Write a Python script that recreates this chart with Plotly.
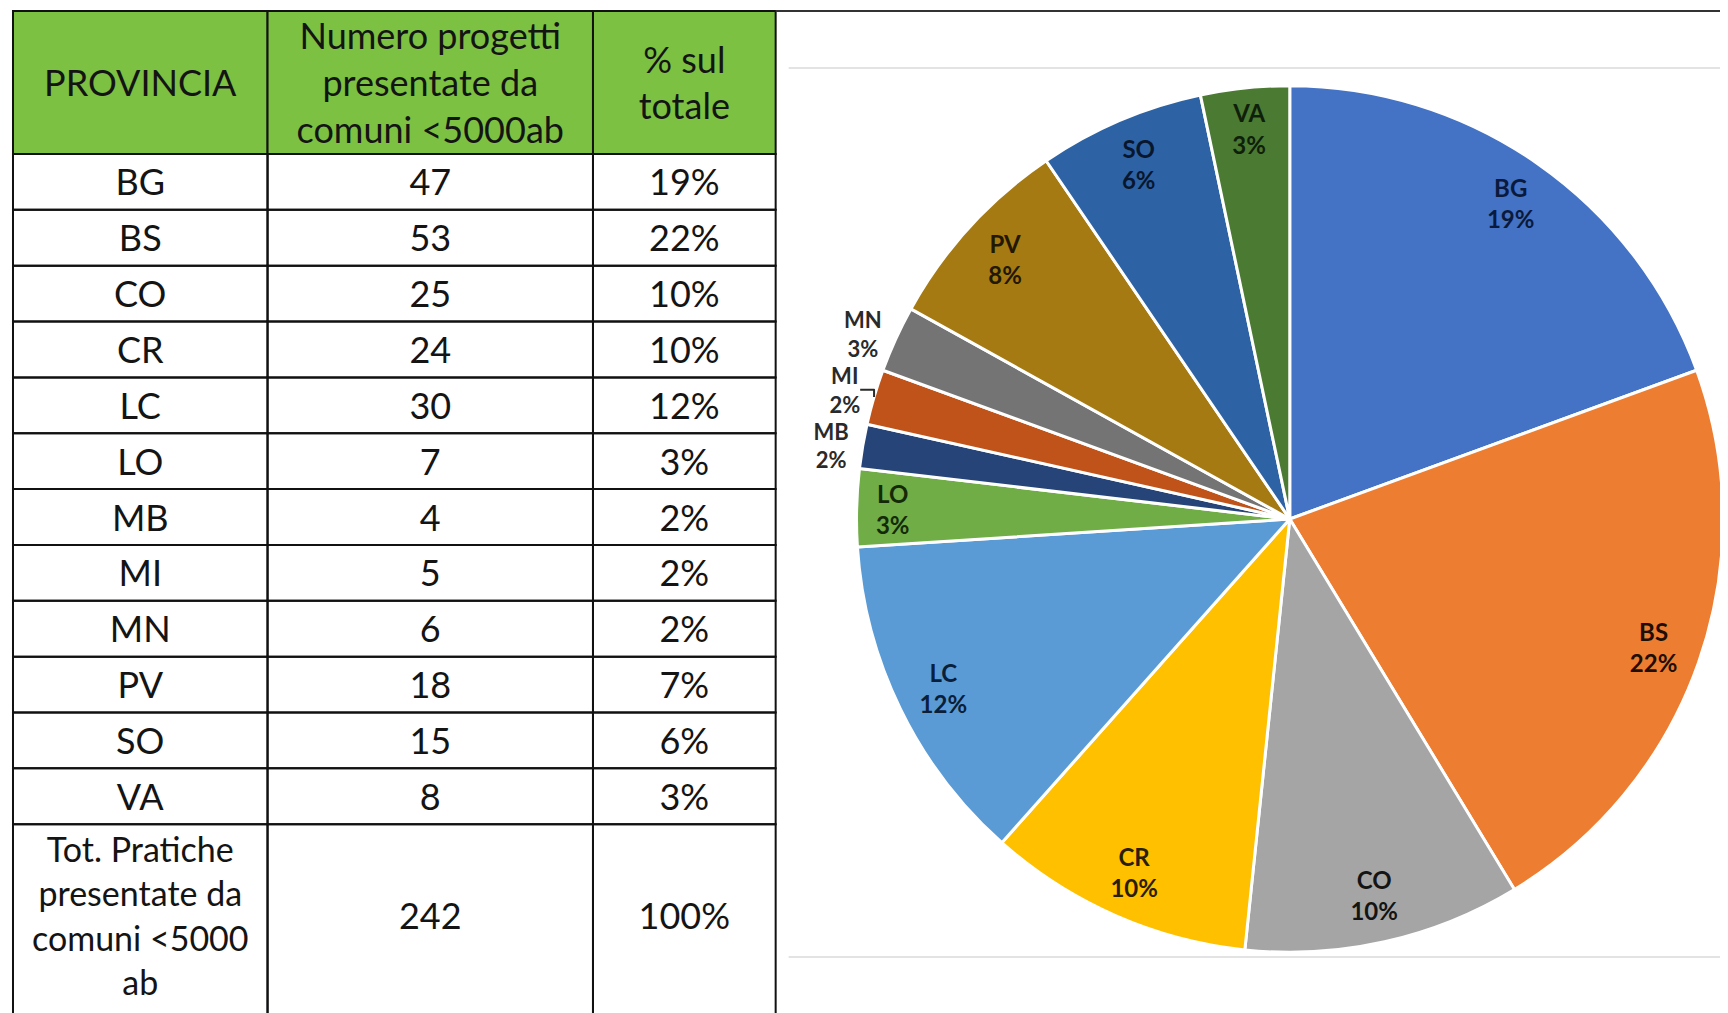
import plotly.graph_objects as go

# ---------------- data ----------------
provinces = ["BG", "BS", "CO", "CR", "LC", "LO", "MB", "MI", "MN", "PV", "SO", "VA"]
projects = [47, 53, 25, 24, 30, 7, 4, 5, 6, 18, 15, 8]
pct_table = ["19%", "22%", "10%", "10%", "12%", "3%", "2%", "2%", "2%", "7%", "6%", "3%"]
pie_pct = ["19%", "22%", "10%", "10%", "12%", "3%", "2%", "2%", "3%", "8%", "6%", "3%"]
header = ["PROVINCIA", "Numero progetti<br>presentate da<br>comuni &lt;5000ab", "% sul<br>totale"]
total_label = "Tot. Pratiche<br>presentate da<br>comuni &lt;5000<br>ab"
total_projects = 242
total_pct = "100%"

# ---------------- styles / layout ----------------
W, H = 1728, 1013          # browser window (page pixels)
OFF = 8                    # default page body margin
FW, FH = W - OFF, H - OFF  # figure size so that it ends at the window edge
FONT = "Lato"
slice_colors = ["#4472C4", "#ED7D31", "#A5A5A5", "#FFC000", "#5B9BD5", "#70AD47",
                "#264478", "#C0531A", "#747474", "#A67A12", "#2D63A5", "#4B7A33"]
label_colors = ["#0A1A3C", "#1E0E03", "#141414", "#2A1E00", "#0A203A", "#142A07",
                "#2A2A2A", "#2A2A2A", "#2A2A2A", "#221800", "#08172E", "#0F1F09"]
label_pos = ["inside", "inside", "inside", "inside", "inside", "inside",
             "outside", "outside", "outside", "inside", "inside", "inside"]
header_fill = "#7CC142"

col_edges = [13, 268, 594, 777]
table_top = 11
header_h = 143
row_h = 55.85
total_h = 198
total_text_center = 920     # centre of the (partly cut) last row's text block
text_dy = 4.5               # small downward nudge for visual centring of text
cell_font = 36
total_label_font = 34

fig = go.Figure()

# ---------------- table (drawn on a hidden pixel-unit axis) ----------------
shapes = []
n_cols = len(col_edges) - 1
for c in range(n_cols):
    shapes.append(dict(type="rect", xref="x", yref="y",
                       x0=col_edges[c], x1=col_edges[c + 1],
                       y0=table_top, y1=table_top + header_h,
                       fillcolor=header_fill, line=dict(color="#111111", width=2), layer="below"))
body_top = table_top + header_h
row_tops = [body_top + i * row_h for i in range(len(provinces))]
total_top = body_top + len(provinces) * row_h
for rt in row_tops:
    for c in range(n_cols):
        shapes.append(dict(type="rect", xref="x", yref="y",
                           x0=col_edges[c], x1=col_edges[c + 1], y0=rt, y1=rt + row_h,
                           line=dict(color="#111111", width=2), layer="below"))
for c in range(n_cols):
    shapes.append(dict(type="rect", xref="x", yref="y",
                       x0=col_edges[c], x1=col_edges[c + 1], y0=total_top, y1=total_top + total_h,
                       line=dict(color="#111111", width=2), layer="below"))
shapes.append(dict(type="line", xref="x", yref="y", x0=col_edges[-1], x1=W,
                   y0=table_top, y1=table_top, line=dict(color="#333333", width=2)))
for yy in (68, 957):
    shapes.append(dict(type="line", xref="x", yref="y", x0=790, x1=W, y0=yy, y1=yy,
                       line=dict(color="#DADADA", width=1.5), layer="below"))

col_centers = [(col_edges[c] + col_edges[c + 1]) / 2 for c in range(n_cols)]

tx, ty, tt, ts = [], [], [], []
for c in range(n_cols):
    tx.append(col_centers[c]); ty.append(table_top + header_h / 2 + text_dy)
    tt.append(header[c]); ts.append(cell_font)
for i, rt in enumerate(row_tops):
    yc = rt + row_h / 2 + text_dy
    for c, val in enumerate([provinces[i], str(projects[i]), pct_table[i]]):
        tx.append(col_centers[c]); ty.append(yc); tt.append(val); ts.append(cell_font)
for c, val in enumerate([total_label, str(total_projects), total_pct]):
    tx.append(col_centers[c]); ty.append(total_text_center); tt.append(val)
    ts.append(total_label_font if c == 0 else cell_font)

fig.add_trace(go.Scatter(x=tx, y=ty, text=tt, mode="text", textposition="middle center",
                         textfont=dict(family=FONT, size=ts, color="#141414"),
                         hoverinfo="skip", showlegend=False, xaxis="x", yaxis="y"))

# ---------------- pie ----------------
cx, cy, r = 1292, 519, 434   # page pixels
pie_domain = dict(x=[(cx - r - OFF) / FW, (cx + r - OFF) / FW],
                  y=[(H - cy - r) / FH, (H - cy + r) / FH])

fig.add_trace(go.Pie(labels=provinces, values=projects, sort=False, direction="clockwise",
                     rotation=0, textinfo="none", domain=pie_domain, showlegend=False,
                     marker=dict(colors=slice_colors, line=dict(color="white", width=3)),
                     hoverinfo="label+value"))

pie_text = [f"{p}<br>{q}" for p, q in zip(provinces, pie_pct)]
fig.add_trace(go.Pie(labels=provinces, values=projects, sort=False, direction="clockwise",
                     rotation=0, hole=0.78, domain=pie_domain, showlegend=False,
                     marker=dict(colors=["rgba(0,0,0,0)"] * len(provinces), line=dict(width=0)),
                     text=pie_text, textinfo="text", textposition=label_pos,
                     insidetextorientation="auto",
                     textfont=dict(family=FONT, size=24, color=label_colors, weight="bold"),
                     outsidetextfont=dict(family=FONT, size=22, color="#2A2A2A", weight="bold"),
                     hoverinfo="skip"))

fig.update_layout(
    width=FW, height=FH, margin=dict(l=0, r=0, t=0, b=0),
    paper_bgcolor="white", plot_bgcolor="white",
    xaxis=dict(range=[OFF, W], domain=[0, 1], visible=False, fixedrange=True),
    yaxis=dict(range=[H, OFF], domain=[0, 1], visible=False, fixedrange=True),
    shapes=shapes, hovermode="closest",
)

fig.write_html("out.html")
